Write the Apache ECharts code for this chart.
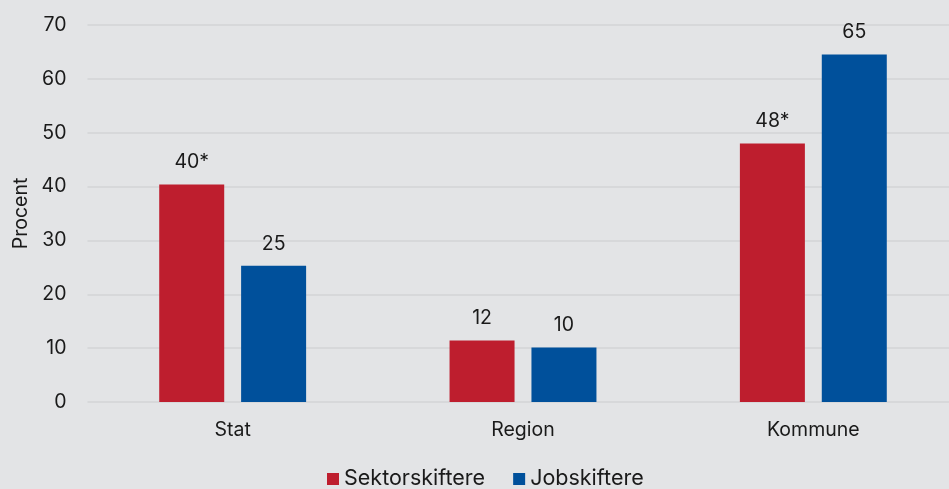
<!DOCTYPE html>
<html>
<head>
<meta charset="utf-8">
<script src="https://cdn.jsdelivr.net/npm/echarts@6/dist/echarts.min.js"></script>
<style>
  html, body { margin: 0; padding: 0; background: #e3e4e6; }
  #chart { width: 949px; height: 489px; }
</style>
</head>
<body>
<div id="chart"></div>
<script>
// data
var categories = ["Stat", "Region", "Kommune"];
var seriesNames = ["Sektorskiftere", "Jobskiftere"];
var sektorValues = [40.4, 11.4, 48.0];
var jobValues = [25.3, 10.1, 64.5];
var sektorLabels = ["40*", "12", "48*"];
var jobLabels = ["25", "10", "65"];
var yTicks = { min: 0, max: 70, interval: 10 };

var fontFamily = "Inter, 'Noto Sans', sans-serif";
var textColor = "#1a1a1a";

var chart = echarts.init(document.getElementById("chart"));

function labelFor(texts) {
  return {
    show: true,
    position: "top",
    distance: 12,
    color: textColor,
    fontFamily: fontFamily,
    fontSize: 19.5,
    formatter: function (p) { return texts[p.dataIndex]; }
  };
}

var option = {
  backgroundColor: "#e3e4e6",
  animation: false,
  textStyle: { fontFamily: fontFamily },
  grid: { left: 87.5, right: -9.5, top: 25, bottom: 87, outerBoundsMode: "none", containLabel: false },
  legend: {
    top: 463,
    left: 322,
    itemWidth: 12,
    itemHeight: 12,
    itemGap: 28,
    icon: "rect",
    textStyle: { color: textColor, fontSize: 21.5, fontFamily: fontFamily },
    data: seriesNames
  },
  xAxis: {
    type: "category",
    data: categories,
    axisLine: { show: false },
    axisTick: { show: false },
    axisLabel: { color: textColor, fontSize: 19.5, fontFamily: fontFamily, margin: 18 }
  },
  yAxis: {
    type: "value",
    min: yTicks.min,
    max: yTicks.max,
    interval: yTicks.interval,
    name: "Procent",
    nameLocation: "middle",
    nameGap: 56,
    nameTextStyle: { color: textColor, fontSize: 19.5, fontFamily: fontFamily },
    axisLine: { show: false },
    axisTick: { show: false },
    axisLabel: { color: textColor, fontSize: 19.5, fontFamily: fontFamily, margin: 21 },
    splitLine: { lineStyle: { color: "#d3d4d6", width: 1.5 } }
  },
  series: [
    {
      name: seriesNames[0],
      type: "bar",
      data: sektorValues,
      barWidth: 65,
      barGap: "26%",
      itemStyle: { color: "#be1e2e" },
      label: labelFor(sektorLabels)
    },
    {
      name: seriesNames[1],
      type: "bar",
      data: jobValues,
      barWidth: 65,
      itemStyle: { color: "#00509b" },
      label: labelFor(jobLabels)
    }
  ]
};

chart.setOption(option);
</script>
</body>
</html>
